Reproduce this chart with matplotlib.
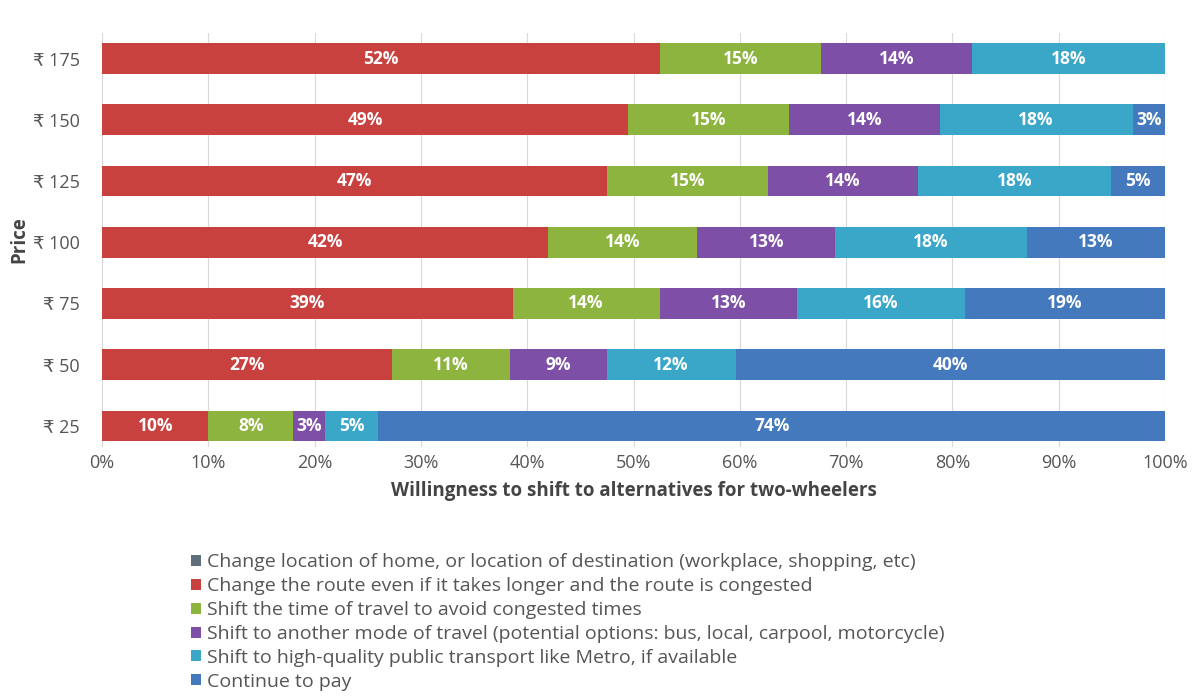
import matplotlib
matplotlib.use('Agg')
import matplotlib.pyplot as plt
import numpy as np

prices = ['₹ 25', '₹ 50', '₹ 75', '₹ 100', '₹ 125', '₹ 150', '₹ 175']

series = [
    'Change location of home, or location of destination (workplace, shopping, etc)',
    'Change the route even if it takes longer and the route is congested',
    'Shift the time of travel to avoid congested times',
    'Shift to another mode of travel (potential options: bus, local, carpool, motorcycle)',
    'Shift to high-quality public transport like Metro, if available',
    'Continue to pay',
]

relocate = [0, 0, 0, 0, 0, 0, 0]
reroute = [10, 27, 39, 42, 47, 49, 52]
retime = [8, 11, 14, 14, 15, 15, 15]
other_mode = [3, 9, 13, 13, 14, 14, 14]
metro = [5, 12, 16, 18, 18, 18, 18]
pay = [74, 40, 19, 13, 5, 3, 0]

colors = ['#5f6f7a', '#c8413f', '#8db43e', '#7d4fa6', '#3aa7c9', '#4579bd']

plt.rcParams['font.family'] = ['Open Sans', 'DejaVu Sans']

data = np.array([relocate, reroute, retime, other_mode, metro, pay], dtype=float)
# 100% stacked: each row scaled so the bar ends at 100%
share = data / data.sum(axis=0) * 100

fig = plt.figure(figsize=(12.01, 6.98), dpi=100)
ax = fig.add_axes([0.085, 0.359, 0.885, 0.594])

y = np.arange(len(prices))
left = np.zeros(len(prices))
for name, vals, raw, c in zip(series, share, data, colors):
    bars = ax.barh(y, vals, left=left, height=0.5, color=c, label=name, zorder=2)
    labels = [f'{v:.0f}%' if v > 0 else '' for v in raw]
    ax.bar_label(bars, labels=labels, label_type='center', color='white',
                 fontsize=12.5, fontweight='bold')
    left += vals

ax.set_xlim(0, 100)
ax.set_ylim(-0.35, 6.42)
ax.set_xticks(np.arange(0, 101, 10))
ax.set_xticklabels([f'{t}%' for t in range(0, 101, 10)], color='#555555', fontsize=13)
ax.set_yticks(y)
ax.set_yticklabels(prices, color='#555555', fontsize=13)
ax.tick_params(axis='x', length=0, pad=5)
ax.tick_params(axis='y', length=0, pad=16)
ax.xaxis.grid(True, color='#d9d9d9', linewidth=0.8, zorder=0)
for s in ax.spines.values():
    s.set_visible(False)

ax.set_xlabel('Willingness to shift to alternatives for two-wheelers',
              fontsize=13.5, fontweight='bold', color='#444444', labelpad=6)
ax.set_ylabel('Price', fontsize=13.5, fontweight='bold', color='#444444')
ax.yaxis.set_label_coords(-0.068, 0.5)

leg = fig.legend(loc='upper left', bbox_to_anchor=(0.151, 0.221), frameon=False,
                 fontsize=14, handlelength=0.5, handleheight=0.5, handletextpad=0.3,
                 labelspacing=0.3, borderpad=0)
for t in leg.get_texts():
    t.set_color('#555555')

fig.savefig('out.png', dpi=100)
